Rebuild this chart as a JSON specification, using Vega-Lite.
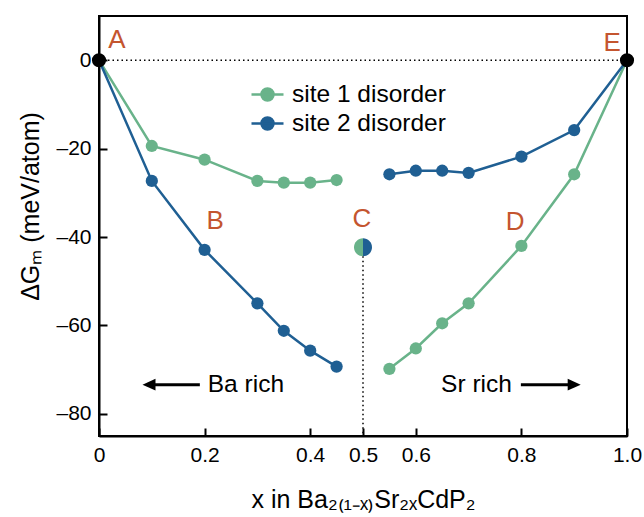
{
  "$schema": "https://vega.github.io/schema/vega-lite/v6.json",
  "width": 528,
  "height": 420,
  "autosize": "none",
  "padding": {"left": 99, "top": 16, "right": 17, "bottom": 81},
  "background": "white",
  "config": {
    "font": "Liberation Sans",
    "view": {"stroke": "black", "strokeWidth": 2},
    "axis": {
      "domainColor": "black", "domainWidth": 2,
      "tickColor": "black", "tickWidth": 2, "tickSize": -8,
      "labelFont": "Liberation Sans", "labelFontSize": 21, "labelColor": "black",
      "labelFlush": false, "labelOverlap": false,
      "titleFont": "Liberation Sans", "titleFontSize": 25, "titleFontWeight": "normal", "titleColor": "black",
      "grid": false
    }
  },
  "datasets": {
    "curves": [
      {"series": "site 1 disorder", "seg": "1a", "x": 0, "y": 0},
      {"series": "site 1 disorder", "seg": "1a", "x": 0.1, "y": -19.4},
      {"series": "site 1 disorder", "seg": "1a", "x": 0.2, "y": -22.5},
      {"series": "site 1 disorder", "seg": "1a", "x": 0.3, "y": -27.3},
      {"series": "site 1 disorder", "seg": "1a", "x": 0.35, "y": -27.7},
      {"series": "site 1 disorder", "seg": "1a", "x": 0.4, "y": -27.7},
      {"series": "site 1 disorder", "seg": "1a", "x": 0.45, "y": -27.1},
      {"series": "site 1 disorder", "seg": "1b", "x": 0.55, "y": -69.8},
      {"series": "site 1 disorder", "seg": "1b", "x": 0.6, "y": -65.2},
      {"series": "site 1 disorder", "seg": "1b", "x": 0.65, "y": -59.5},
      {"series": "site 1 disorder", "seg": "1b", "x": 0.7, "y": -55.0},
      {"series": "site 1 disorder", "seg": "1b", "x": 0.8, "y": -42.0},
      {"series": "site 1 disorder", "seg": "1b", "x": 0.9, "y": -25.8},
      {"series": "site 1 disorder", "seg": "1b", "x": 1.0, "y": 0},
      {"series": "site 2 disorder", "seg": "2a", "x": 0, "y": 0},
      {"series": "site 2 disorder", "seg": "2a", "x": 0.1, "y": -27.3},
      {"series": "site 2 disorder", "seg": "2a", "x": 0.2, "y": -42.9},
      {"series": "site 2 disorder", "seg": "2a", "x": 0.3, "y": -55.0},
      {"series": "site 2 disorder", "seg": "2a", "x": 0.35, "y": -61.2},
      {"series": "site 2 disorder", "seg": "2a", "x": 0.4, "y": -65.7},
      {"series": "site 2 disorder", "seg": "2a", "x": 0.45, "y": -69.3},
      {"series": "site 2 disorder", "seg": "2b", "x": 0.55, "y": -25.8},
      {"series": "site 2 disorder", "seg": "2b", "x": 0.6, "y": -25.0},
      {"series": "site 2 disorder", "seg": "2b", "x": 0.65, "y": -25.0},
      {"series": "site 2 disorder", "seg": "2b", "x": 0.7, "y": -25.5},
      {"series": "site 2 disorder", "seg": "2b", "x": 0.8, "y": -21.8},
      {"series": "site 2 disorder", "seg": "2b", "x": 0.9, "y": -15.8},
      {"series": "site 2 disorder", "seg": "2b", "x": 1.0, "y": 0}
    ],
    "letters": [
      {"label": "A", "x": 0.034, "y": 4.5},
      {"label": "B", "x": 0.22, "y": -36.4},
      {"label": "C", "x": 0.498, "y": -35.9},
      {"label": "D", "x": 0.788, "y": -36.6},
      {"label": "E", "x": 0.972, "y": 3.8}
    ]
  },
  "layer": [
    {
      "data": {"values": [{"x": 0, "x2": 1, "y": 0}]},
      "mark": {"type": "rule", "color": "black", "strokeWidth": 1.5, "strokeDash": [1.5, 3]},
      "encoding": {
        "x": {"field": "x", "type": "quantitative"},
        "x2": {"field": "x2"},
        "y": {"field": "y", "type": "quantitative"}
      }
    },
    {
      "data": {"values": [{"x": 0.5, "y": -42.3, "y2": -85}]},
      "mark": {"type": "rule", "color": "black", "strokeWidth": 1.5, "strokeDash": [1.5, 3]},
      "encoding": {
        "x": {"field": "x", "type": "quantitative"},
        "y": {"field": "y", "type": "quantitative"},
        "y2": {"field": "y2"}
      }
    },
    {
      "data": {"name": "curves"},
      "mark": {"type": "line", "strokeWidth": 2.5},
      "encoding": {
        "x": {
          "field": "x", "type": "quantitative",
          "scale": {"domain": [0, 1], "nice": false, "zero": false},
          "axis": {
            "values": [0, 0.2, 0.4, 0.5, 0.6, 0.8, 1.0],
            "labelExpr": "datum.value == 0 ? '0' : format(datum.value, '.1f')",
            "labelPadding": 16,
            "title": "x in Ba₂₍₁₋ₓ₎Sr₂ₓCdP₂",
            "titlePadding": 22
          }
        },
        "y": {
          "field": "y", "type": "quantitative",
          "scale": {"domain": [-85, 10], "nice": false, "zero": false},
          "axis": {
            "values": [-80, -60, -40, -20, 0],
            "labelExpr": "datum.value < 0 ? '–' + abs(datum.value) : '0'",
            "labelPadding": 16,
            "title": "ΔGₘ (meV/atom)",
            "titlePadding": 12,
            "titleY": 190
          }
        },
        "detail": {"field": "seg"},
        "color": {
          "field": "series", "type": "nominal",
          "scale": {"domain": ["site 1 disorder", "site 2 disorder"], "range": ["#69b38a", "#1f5f93"]},
          "legend": {
            "orient": "none", "legendX": 151, "legendY": 61,
            "title": null, "padding": 0,
            "symbolType": "M-1,0L1,0M-0.375,0A0.375,0.375,0,1,1,0.375,0A0.375,0.375,0,1,1,-0.375,0Z",
            "symbolSize": 1024, "symbolStrokeWidth": 2.5,
            "labelFontSize": 24.5, "labelFont": "Liberation Sans", "labelColor": "black",
            "labelOffset": 7, "rowPadding": 0,
            "encode": {
              "symbols": {
                "update": {
                  "fill": {"scale": "color", "field": "value"},
                  "stroke": {"scale": "color", "field": "value"},
                  "strokeWidth": {"value": 2.5}
                }
              }
            }
          }
        }
      }
    },
    {
      "data": {"name": "curves"},
      "mark": {"type": "point", "filled": true, "size": 150, "opacity": 1},
      "encoding": {
        "x": {"field": "x", "type": "quantitative"},
        "y": {"field": "y", "type": "quantitative"},
        "color": {"field": "series", "type": "nominal"}
      }
    },
    {
      "data": {"values": [{"x": 0, "y": 0}, {"x": 1, "y": 0}]},
      "mark": {"type": "point", "filled": true, "size": 200, "color": "black", "opacity": 1},
      "encoding": {
        "x": {"field": "x", "type": "quantitative"},
        "y": {"field": "y", "type": "quantitative"}
      }
    },
    {
      "data": {"values": [{"x": 0.5, "y": -42.3}]},
      "mark": {"type": "point", "filled": true, "size": 324, "opacity": 1, "color": "#69b38a", "shape": "M0,-1A1,1,0,0,0,0,1Z"},
      "encoding": {
        "x": {"field": "x", "type": "quantitative"},
        "y": {"field": "y", "type": "quantitative"}
      }
    },
    {
      "data": {"values": [{"x": 0.5, "y": -42.3}]},
      "mark": {"type": "point", "filled": true, "size": 324, "opacity": 1, "color": "#1f5f93", "shape": "M0,-1A1,1,0,0,1,0,1Z"},
      "encoding": {
        "x": {"field": "x", "type": "quantitative"},
        "y": {"field": "y", "type": "quantitative"}
      }
    },
    {
      "data": {"name": "letters"},
      "mark": {"type": "text", "fontSize": 26, "color": "#c4552f", "font": "Liberation Sans"},
      "encoding": {
        "x": {"field": "x", "type": "quantitative"},
        "y": {"field": "y", "type": "quantitative"},
        "text": {"field": "label"}
      }
    },
    {
      "data": {"values": [{"label": "Ba rich", "x": 0.206, "y": -73.4}]},
      "mark": {"type": "text", "fontSize": 24.5, "color": "black", "font": "Liberation Sans", "baseline": "middle", "align": "left"},
      "encoding": {
        "x": {"field": "x", "type": "quantitative"},
        "y": {"field": "y", "type": "quantitative"},
        "text": {"field": "label"}
      }
    },
    {
      "data": {"values": [{"label": "Sr rich", "x": 0.782, "y": -73.4}]},
      "mark": {"type": "text", "fontSize": 24.5, "color": "black", "font": "Liberation Sans", "baseline": "middle", "align": "right"},
      "encoding": {
        "x": {"field": "x", "type": "quantitative"},
        "y": {"field": "y", "type": "quantitative"},
        "text": {"field": "label"}
      }
    },
    {
      "data": {"values": [
        {"x": 0.1, "x2": 0.191, "y": -73.4},
        {"x": 0.799, "x2": 0.895, "y": -73.4}
      ]},
      "mark": {"type": "rule", "color": "black", "strokeWidth": 3},
      "encoding": {
        "x": {"field": "x", "type": "quantitative"},
        "x2": {"field": "x2"},
        "y": {"field": "y", "type": "quantitative"}
      }
    },
    {
      "data": {"values": [{"x": 0.0947, "y": -73.4}]},
      "mark": {"type": "point", "filled": true, "size": 169, "color": "black", "opacity": 1, "strokeWidth": 0, "shape": "M-1,0L1,-0.9L1,0.9Z"},
      "encoding": {
        "x": {"field": "x", "type": "quantitative"},
        "y": {"field": "y", "type": "quantitative"}
      }
    },
    {
      "data": {"values": [{"x": 0.9, "y": -73.4}]},
      "mark": {"type": "point", "filled": true, "size": 169, "color": "black", "opacity": 1, "strokeWidth": 0, "shape": "M1,0L-1,-0.9L-1,0.9Z"},
      "encoding": {
        "x": {"field": "x", "type": "quantitative"},
        "y": {"field": "y", "type": "quantitative"}
      }
    }
  ]
}
